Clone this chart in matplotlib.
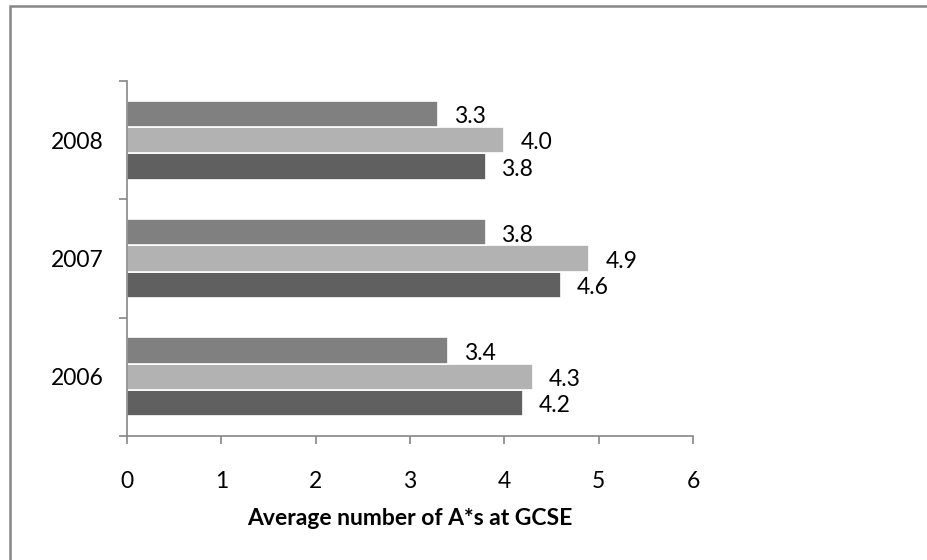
import matplotlib.pyplot as plt
import numpy as np
from matplotlib.patches import Rectangle

years = ['2006', '2007', '2008']
# three series per year, drawn bottom to top within each group
series_low = [4.2, 4.6, 3.8]
series_mid = [4.3, 4.9, 4.0]
series_top = [3.4, 3.8, 3.3]
colours = ['#606060', '#b2b2b2', '#808080']

plt.rcParams['font.family'] = ['Lato', 'DejaVu Sans']
fs = 16.5

fig = plt.figure(figsize=(9.28, 5.60), dpi=100)
ax = fig.add_axes([0.1369, 0.2214, 0.6099, 0.634])

y = np.arange(len(years))
h = 0.222
for k, (vals, col) in enumerate(zip([series_low, series_mid, series_top], colours)):
    pos = y + (k - 1) * h
    bars = ax.barh(pos, vals, height=h, color=col, edgecolor='white', linewidth=1.2)
    for b, v in zip(bars, vals):
        ax.annotate(f'{v:.1f}', (v, b.get_y() + b.get_height() / 2),
                    xytext=(11.5, -2), textcoords='offset points',
                    ha='left', va='center', fontsize=fs)

ax.set_xlim(0, 6)
ax.set_ylim(-0.5, 2.5)
ax.set_xticks(range(7))
ax.set_yticks([-0.5, 0.5, 1.5, 2.5])
ax.set_yticklabels([])
ax.set_yticks(y, minor=True)
ax.set_yticklabels(years, minor=True)
ax.tick_params(axis='y', which='minor', length=0, pad=17, labelsize=fs)
ax.tick_params(axis='y', which='major', length=6, width=1.2, color='#868686')
ax.tick_params(axis='x', length=6, width=1.2, color='#868686', pad=19, labelsize=fs)

for side in ['top', 'right']:
    ax.spines[side].set_visible(False)
for side in ['left', 'bottom']:
    ax.spines[side].set_color('#868686')
    ax.spines[side].set_linewidth(1.2)

ax.set_xlabel('Average number of A*s at GCSE', fontsize=fs, fontweight='bold', labelpad=12)

# chart area frame, running off the right and bottom edges
fig.patches.append(Rectangle((0.0108, -0.1), 1.2, 1.089, transform=fig.transFigure,
                             fill=False, edgecolor='#868686', linewidth=1.8))

fig.savefig('out.png', dpi=100)
